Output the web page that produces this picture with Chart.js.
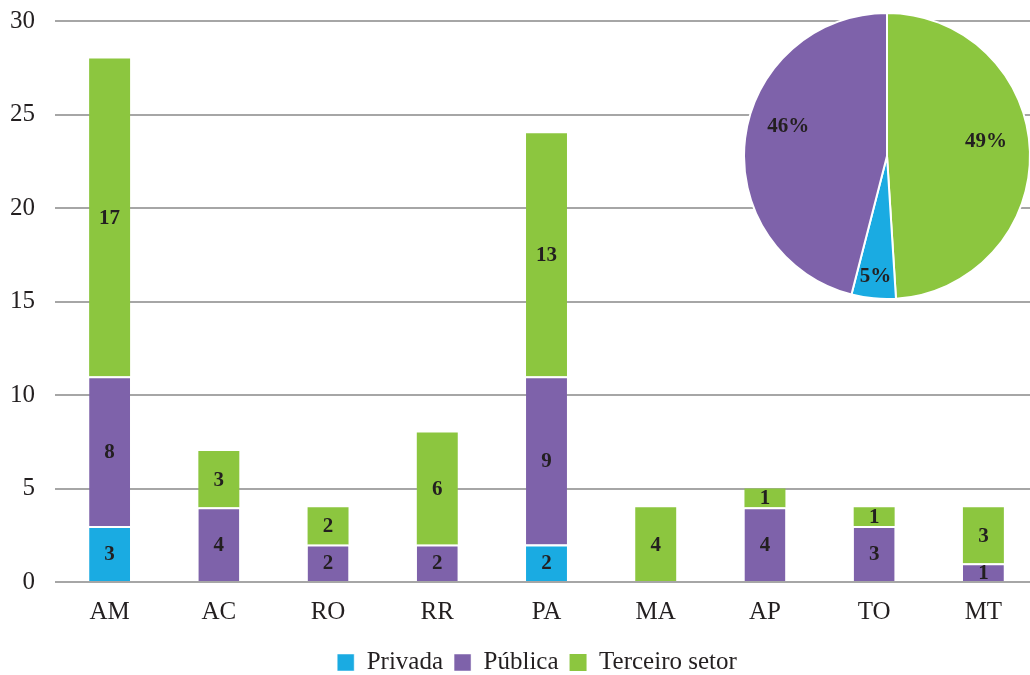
<!DOCTYPE html>
<html><head><meta charset="utf-8">
<script src="https://cdn.jsdelivr.net/npm/chart.js@4/dist/chart.umd.min.js"></script>
<style>
html,body{margin:0;padding:0;background:#fff;overflow:hidden;}
#wrap{position:relative;width:1038px;height:675px;overflow:hidden;}
#bar{position:absolute;left:0;top:-14px;}
#pie{position:absolute;left:741px;top:10px;}
</style></head><body>
<div id="wrap">
<canvas id="bar" width="1038" height="698"></canvas>
<canvas id="pie" width="292" height="292"></canvas>
</div>
<script>
const categories = ['AM','AC','RO','RR','PA','MA','AP','TO','MT'];
const privada = [3,0,0,0,2,0,0,0,0];
const publica = [8,4,2,2,9,0,4,3,1];
const terceiro = [17,3,2,6,13,4,1,1,3];
const seriesNames = ['Privada','Pública','Terceiro setor'];
const pieLabels = ['Terceiro setor','Privada','Pública'];
const pieValues = [49,5,46];
const yTicks = [0,5,10,15,20,25,30];

const C_BLUE='#1aabe2', C_PURPLE='#7e62aa', C_GREEN='#8cc63f';
const SERIF='"Liberation Serif","DejaVu Serif",serif';
const TXT='#231f20';

const valueLabels = {
  id:'valueLabels',
  afterDatasetsDraw(chart){
    const ctx=chart.ctx;
    ctx.save();
    ctx.font='bold 21px '+SERIF;
    ctx.fillStyle=TXT;
    ctx.textAlign='center';ctx.textBaseline='middle';
    chart.data.datasets.forEach((ds,i)=>{
      const meta=chart.getDatasetMeta(i);
      meta.data.forEach((el,j)=>{
        const v=ds.data[j];
        if(!v) return;
        const p=el.getProps(['x','y','base'],true);
        ctx.fillText(String(v),p.x,(p.y+p.base)/2+1);
      });
    });
    ctx.restore();
  }
};

const legendShift = {
  id:'legendShift',
  afterLayout(chart){
    const lg=chart.legend;
    if(lg){lg.left+=23;lg.right+=23;lg.top-=3;lg.bottom-=3;}
  }
};

new Chart(document.getElementById('bar'),{
  type:'bar',
  data:{labels:categories,datasets:[
    {label:seriesNames[0],data:privada,backgroundColor:C_BLUE,borderColor:'#fff',borderWidth:{top:2},borderSkipped:false},
    {label:seriesNames[1],data:publica,backgroundColor:C_PURPLE,borderColor:'#fff',borderWidth:{top:2},borderSkipped:false},
    {label:seriesNames[2],data:terceiro,backgroundColor:C_GREEN,borderColor:'#fff',borderWidth:0}
  ]},
  options:{
    responsive:false,animation:false,
    layout:{padding:{left:-10,top:0,right:0,bottom:-4}},
    datasets:{bar:{barPercentage:0.75,categoryPercentage:0.5}},
    scales:{
      x:{stacked:true,grid:{display:false,drawTicks:false},border:{display:false},
         ticks:{color:TXT,font:{family:SERIF,size:25},padding:15}},
      y:{stacked:true,min:0,max:30,
         afterBuildTicks(s){s.ticks=yTicks.map(v=>({value:v}));},
         grid:{color:'#a6a6a6',lineWidth:2,drawTicks:false},border:{display:false},
         ticks:{color:TXT,font:{family:SERIF,size:25},padding:20}}
    },
    plugins:{
      legend:{position:'bottom',
        labels:{color:TXT,font:{family:SERIF,size:25},boxWidth:17,boxHeight:17,padding:11,useBorderRadius:false}},
      tooltip:{enabled:false}
    }
  },
  plugins:[valueLabels,legendShift]
});

const pieLabelPlugin={
  id:'pieLabelPlugin',
  afterDatasetsDraw(chart){
    const ctx=chart.ctx;
    const meta=chart.getDatasetMeta(0);
    const factors=[0.7,0.85,0.72];
    const shifts=[-0.11,0,0.16];
    ctx.save();
    ctx.font='bold 21px '+SERIF;
    ctx.fillStyle=TXT;ctx.textAlign='center';ctx.textBaseline='middle';
    meta.data.forEach((arc,i)=>{
      const p=arc.getProps(['x','y','startAngle','endAngle','outerRadius'],true);
      const a=(p.startAngle+p.endAngle)/2+shifts[i];
      const r=p.outerRadius*factors[i];
      ctx.fillText(pieValues[i]+'%',p.x+Math.cos(a)*r,p.y+Math.sin(a)*r);
    });
    ctx.restore();
  }
};

new Chart(document.getElementById('pie'),{
  type:'pie',
  data:{labels:pieLabels,datasets:[{data:pieValues,backgroundColor:[C_GREEN,C_BLUE,C_PURPLE],borderColor:'#fff',borderWidth:2}]},
  options:{responsive:false,animation:false,layout:{padding:2},
    plugins:{legend:{display:false},tooltip:{enabled:false}}},
  plugins:[pieLabelPlugin]
});
</script>
</body></html>
